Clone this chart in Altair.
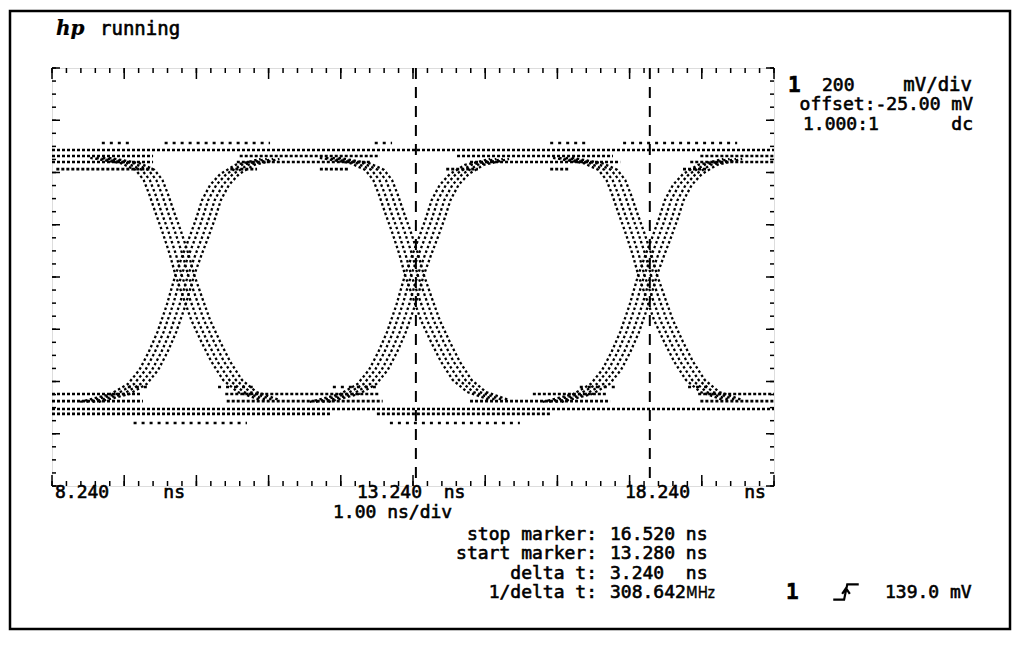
import altair as alt
import pandas as pd

X_DOMAIN_NS = [8.24, 18.24]          # 10 div x 1.00 ns/div
Y_DOMAIN_MV = [-825, 775]            # 8 div x 200 mV/div, offset -25 mV

CROSSINGS_NS = [10.08, 13.26, 16.49]  # eye crossing times
JITTER_NS = [-0.13, -0.045, 0.045, 0.13]  # spread of the edge bands

# falling edge (relative to crossing)
FALL_DT_NS = [-1.18, -0.76, -0.55, -0.44, -0.36, -0.28, -0.18, -0.08, 0.0,
              0.11, 0.22, 0.36, 0.50, 0.66, 0.86, 1.18]
FALL_MV = [431, 411, 385, 346, 289, 224, 147, 63, -17,
           -105, -190, -274, -350, -419, -465, -496]
# rising edge (relative to crossing)
RISE_DT_NS = [-1.32, -0.90, -0.66, -0.50, -0.37, -0.25, -0.12, 0.0,
              0.10, 0.19, 0.28, 0.37, 0.48, 0.62, 0.83, 1.18]
RISE_MV = [-503, -473, -435, -381, -312, -236, -132, -17,
           59, 124, 193, 270, 327, 369, 404, 427]

# rail rows of the eye (level in mV, visible segments in ns)
RAIL_LEVELS_MV = [461, 438, 415, 388, -473, -500, -530, -549]
RAIL_SEGMENTS_NS = [
    [[8.24, 18.24]],
    [[8.24, 9.64], [10.84, 12.78], [13.85, 16.01], [17.22, 18.24]],
    [[8.24, 9.64], [10.80, 12.67], [14.03, 16.11], [17.08, 18.24]],
    [[8.30, 9.64], [10.71, 11.08], [11.95, 12.34], [13.70, 14.14], [15.14, 15.41], [16.98, 17.31]],
    [[8.24, 9.46], [10.64, 12.78], [14.90, 15.93], [17.19, 18.24]],
    [[8.24, 9.50], [10.66, 12.82], [14.03, 15.97], [17.22, 18.24]],
    [[8.24, 18.24]],
    [[8.24, 12.09], [12.74, 15.14]],
]
SPARSE_LEVELS_MV = [488, -446, -584]
SPARSE_SEGMENTS_NS = [
    [[8.93, 9.32], [9.80, 11.26], [12.71, 12.95], [15.14, 15.69], [16.15, 17.73]],
    [[9.29, 9.60], [10.54, 11.02], [12.13, 12.76], [15.55, 16.04], [17.05, 17.35]],
    [[9.37, 10.94], [12.92, 14.72]],
]
MARKERS_NS = [13.28, 16.52]

# texts (\u00a0 keeps the fixed-width spacing of the scope display)
NB = "\u00a0"
STATUS = "running"
LOGO = "hp"
CH_NUM = "1"
CH_SCALE_VALUE = "200"
CH_SCALE_UNIT = "mV/div"
CH_OFFSET = "offset:-25.00" + NB + "mV"
PROBE = "1.000:1"
COUPLING = "dc"
X_LABELS = ["8.240" + NB * 5 + "ns", "13.240" + NB * 2 + "ns", "18.240" + NB * 5 + "ns"]
TIMEBASE = "1.00" + NB + "ns/div"
MARKER_LABELS = ["stop" + NB + "marker:", "start" + NB + "marker:", "delta" + NB + "t:", "1/delta" + NB + "t:"]
MARKER_VALUES = ["16.520" + NB + "ns", "13.280" + NB + "ns", "3.240" + NB * 2 + "ns", "308.642"]
FREQ_UNIT = "MHz"
TRIG_LEVEL = "139.0" + NB + "mV"

# ---------------- build tables ----------------
rows = []
for ci, c in enumerate(CROSSINGS_NS):
    for ji, j in enumerate(JITTER_NS):
        for dt, mv in zip(FALL_DT_NS, FALL_MV):
            rows.append({"id": f"f{ci}_{ji}", "t": c + j + dt, "mv": mv})
        for dt, mv in zip(RISE_DT_NS, RISE_MV):
            rows.append({"id": f"r{ci}_{ji}", "t": c + j + dt, "mv": mv})
edges = pd.DataFrame(rows)

def seg_table(levels, segs, tag):
    out = []
    for li, (lv, ss) in enumerate(zip(levels, segs)):
        for si, (a, b) in enumerate(ss):
            out.append({"id": f"{tag}{li}_{si}", "t": a, "mv": lv})
            out.append({"id": f"{tag}{li}_{si}", "t": b, "mv": lv})
    return pd.DataFrame(out)

rails = seg_table(RAIL_LEVELS_MV, RAIL_SEGMENTS_NS, "h")
sparse = seg_table(SPARSE_LEVELS_MV, SPARSE_SEGMENTS_NS, "s")

x_minor = pd.DataFrame({"t": [round(8.24 + 0.2 * i, 2) for i in range(51)]})
x_major = pd.DataFrame({"t": [round(8.24 + 1.0 * i, 2) for i in range(11)]})
y_minor = pd.DataFrame({"mv": [-825 + 50 * i for i in range(33)]})
y_major = pd.DataFrame({"mv": [-825 + 200 * i for i in range(9)]})

W, H = 722, 418
xs = alt.Scale(domain=X_DOMAIN_NS, nice=False, zero=False)
ys = alt.Scale(domain=Y_DOMAIN_MV, nice=False, zero=False)
X = alt.X("t:Q", scale=xs, axis=None)
Y = alt.Y("mv:Q", scale=ys, axis=None)

edge_layer = alt.Chart(edges).mark_line(
    color="black", strokeWidth=2.3, strokeDash=[2.5, 2.5], clip=True
).encode(x=X, y=Y, detail="id:N", order="t:Q")

rail_layer = alt.Chart(rails).mark_line(
    color="black", strokeWidth=2.6, strokeDash=[3, 2], clip=True
).encode(x=X, y=Y, detail="id:N")

sparse_layer = alt.Chart(sparse).mark_line(
    color="black", strokeWidth=2.6, strokeDash=[3, 5], clip=True
).encode(x=X, y=Y, detail="id:N")

marker_layer = alt.Chart(pd.DataFrame({"t": MARKERS_NS})).mark_rule(
    color="black", strokeWidth=2, strokeDash=[11, 8]
).encode(x=X)

def xticks(df, y0, y1):
    return alt.Chart(df).mark_rule(color="black", strokeWidth=1.5).encode(
        x=X, y=alt.value(y0), y2=alt.value(y1))

def yticks(df, x0, x1):
    return alt.Chart(df).mark_rule(color="black", strokeWidth=1.5).encode(
        y=Y, x=alt.value(x0), x2=alt.value(x1))

ticks = [
    xticks(x_minor, 0, 5), xticks(x_major, 0, 11),
    xticks(x_minor, H, H - 5), xticks(x_major, H, H - 11),
    yticks(y_minor, 0, 4), yticks(y_major, 0, 8),
    yticks(y_minor, W, W - 4), yticks(y_major, W, W - 8),
]

MONO = "DejaVu Sans Mono"

def txt(s, x, y, size=18, align="left", weight="normal", font=MONO, style="normal", sw=0.6):
    return alt.Chart(pd.DataFrame({"s": [s]})).mark_text(
        font=font, fontSize=size, align=align, baseline="alphabetic",
        fontWeight=weight, fontStyle=style, color="black",
        stroke="black", strokeWidth=sw
    ).encode(text="s:N", x=alt.value(x), y=alt.value(y))

texts = [
    txt(LOGO, 4, -33, size=20, weight="bold", font="DejaVu Serif", style="italic", sw=0.2),
    txt(STATUS, 48, -33, size=19),
    txt(CH_NUM, 736, 24, size=21, weight="bold"),
    txt(CH_SCALE_VALUE, 770, 23),
    txt(CH_SCALE_UNIT, 920, 23, align="right", size=19),
    txt(CH_OFFSET, 921, 42, align="right"),
    txt(PROBE, 751, 62),
    txt(COUPLING, 921, 62, align="right"),
    txt(X_LABELS[0], 3, 430),
    txt(X_LABELS[1], 305, 430),
    txt(X_LABELS[2], 573, 430),
    txt(TIMEBASE, 281, 450),
    txt(CH_NUM, 734, 531, size=21, weight="bold"),
    txt(TRIG_LEVEL, 833, 530),
    txt(FREQ_UNIT, 634, 530, size=15, font="DejaVu Sans Condensed", sw=0.4),
]
for i, (lab, val) in enumerate(zip(MARKER_LABELS, MARKER_VALUES)):
    yy = [472, 491, 511, 530][i]
    texts.append(txt(lab, 545, yy, align="right"))
    texts.append(txt(val, 558, yy))

trig_symbol = alt.Chart(pd.DataFrame({"s": [TRIG_LEVEL]})).mark_point(
    shape="M -1 0.6 L -0.15 0.6 L 0.1 -0.6 L 1 -0.6 M -0.3 0.15 L 0 -0.3 L 0.3 0.15",
    size=650, filled=False, color="black", strokeWidth=2.2, opacity=1
).encode(x=alt.value(794), y=alt.value(524))

border = alt.Chart(pd.DataFrame({"s": [STATUS]})).mark_rect(
    fillOpacity=0, stroke="black", strokeWidth=2.5
).encode(x=alt.value(-42), x2=alt.value(958), y=alt.value(-57), y2=alt.value(561))

chart = alt.layer(
    border, rail_layer, sparse_layer, edge_layer, marker_layer, *ticks, trig_symbol, *texts
).properties(
    width=W, height=H,
    autosize=alt.AutoSizeParams(type="none"),
    padding={"left": 44, "top": 60, "right": 238, "bottom": 146},
).configure_view(
    stroke="black", strokeWidth=1.5, strokeDash=[2, 1]
).configure(background="white")

chart.save("out.html", embed_options={"renderer": "svg", "actions": False})
